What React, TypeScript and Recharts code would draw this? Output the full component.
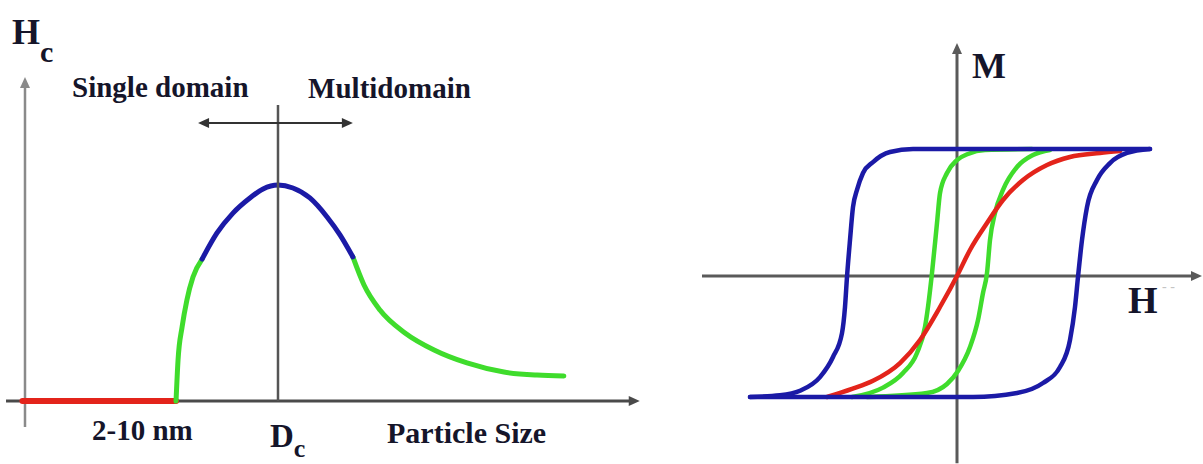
import type { JSX } from "react";
import {
  LineChart,
  Line,
  XAxis,
  YAxis,
  ReferenceLine,
  ReferenceDot,
} from "recharts";

/* ---------- COLORS ---------- */
const COLORS = {
  red: "#e3241b",
  green: "#3fdc2c",
  blue: "#1b1aa6",
  text: "#15152a",
  axis: "#4a4a4a",
  axisLight: "#8a8a8a",
};

const FONT = "Liberation Serif, Times New Roman, DejaVu Serif, serif";

/* ---------- COERCIVITY vs PARTICLE SIZE ---------- */
// size in units of Dc, Hc relative to its peak
const superparaSeg: [number, number][] = [
  [-0.01, 0],
  [0.597, 0],
];

const singleRiseSeg: [number, number][] = [
  [0.597, 0],
  [0.605, 0.19],
  [0.621, 0.343],
  [0.64, 0.468],
  [0.664, 0.574],
  [0.7, 0.657],
];

const peakSeg: [number, number][] = [
  [0.7, 0.657],
  [0.759, 0.778],
  [0.822, 0.87],
  [0.889, 0.94],
  [0.941, 0.982],
  [1.0, 1.0],
  [1.059, 0.986],
  [1.126, 0.94],
  [1.194, 0.852],
  [1.245, 0.769],
  [1.296, 0.667],
];

const multiTailSeg: [number, number][] = [
  [1.296, 0.667],
  [1.34, 0.537],
  [1.403, 0.421],
  [1.502, 0.315],
  [1.617, 0.236],
  [1.747, 0.176],
  [1.893, 0.134],
  [2.024, 0.12],
  [2.13, 0.116],
];

/* ---------- HYSTERESIS LOOPS (H, M) ---------- */
// wide loop, descending branch
const hardDown: [number, number][] = [
  [-2.07, -0.976],
  [-1.77, -0.962],
  [-1.57, -0.925],
  [-1.37, -0.815],
  [-1.24, -0.653],
  [-1.15, -0.46],
  [-1.12, -0.25],
  [-1.1, -0.008],
  [-1.07, 0.29],
  [-1.04, 0.556],
  [-1.0, 0.694],
  [-0.94, 0.831],
  [-0.84, 0.919],
  [-0.67, 1.0],
  [-0.44, 1.024],
  [1.93, 1.024],
];

// wide loop, ascending branch
const hardUp: [number, number][] = [
  [-2.07, -0.976],
  [0.16, -0.976],
  [0.6, -0.944],
  [0.86, -0.863],
  [1.03, -0.734],
  [1.13, -0.516],
  [1.18, -0.25],
  [1.21, -0.008],
  [1.25, 0.29],
  [1.3, 0.556],
  [1.4, 0.774],
  [1.53, 0.911],
  [1.7, 0.992],
  [1.93, 1.024],
];

// narrow loop
const softDown: [number, number][] = [
  [-1.05, -0.976],
  [-0.74, -0.9],
  [-0.54, -0.782],
  [-0.4, -0.621],
  [-0.32, -0.411],
  [-0.29, -0.25],
  [-0.25, 0.024],
  [-0.2, 0.427],
  [-0.17, 0.669],
  [-0.1, 0.831],
  [0.0, 0.935],
  [0.11, 0.984],
  [0.28, 1.016],
  [0.75, 1.024],
];

const softUp: [number, number][] = [
  [-0.9, -0.976],
  [-0.3, -0.944],
  [-0.1, -0.871],
  [0.01, -0.766],
  [0.13, -0.573],
  [0.21, -0.355],
  [0.26, -0.137],
  [0.3, 0.024],
  [0.33, 0.29],
  [0.38, 0.508],
  [0.46, 0.694],
  [0.6, 0.879],
  [0.76, 0.976],
  [0.93, 1.016],
];

// no remanence
const anhysteretic: [number, number][] = [
  [-1.3, -0.976],
  [-1.05, -0.91],
  [-0.84, -0.845],
  [-0.57, -0.702],
  [-0.37, -0.516],
  [-0.17, -0.25],
  [0, 0],
  [0.13, 0.21],
  [0.3, 0.427],
  [0.46, 0.613],
  [0.66, 0.774],
  [0.9, 0.895],
  [1.13, 0.96],
  [1.43, 0.992],
  [1.63, 1.008],
];

/* ---------- LABELS ---------- */
const SIZE_LABELS = {
  hc: ["H", "c"],
  single: "Single domain",
  multi: "Multidomain",
  range: "2-10 nm",
  dc: ["D", "c"],
  size: "Particle Size",
};

const LOOP_LABELS = { m: "M", h: "H", trail: "- -" };

/* ---------- DOMAINS ---------- */
const SIZE_X: [number, number] = [-0.0988, 2.4704];
const SIZE_Y: [number, number] = [-0.2917, 1.8565];
const LOOP_X: [number, number] = [-2.77, 2.46];
const LOOP_Y: [number, number] = [-1.5161, 2.2258];

const toPoints = (pairs: [number, number][]) =>
  pairs.map(([x, y]) => ({ x, y }));

/* ---------- SHAPES ---------- */
function Arrow({
  x1,
  y1,
  x2,
  y2,
  color,
  width,
  both,
}: any): JSX.Element | null {
  if ([x1, y1, x2, y2].some((v) => v == null || Number.isNaN(v))) return null;
  const ang = Math.atan2(y2 - y1, x2 - x1);
  const len = 11;
  const half = 5;
  const head = (x: number, y: number, a: number) => {
    const bx = x - Math.cos(a) * len;
    const by = y - Math.sin(a) * len;
    const px = Math.sin(a) * half;
    const py = -Math.cos(a) * half;
    return `${x},${y} ${bx + px},${by + py} ${bx - px},${by - py}`;
  };
  return (
    <g>
      <line
        x1={both ? x1 + Math.cos(ang) * 6 : x1}
        y1={both ? y1 + Math.sin(ang) * 6 : y1}
        x2={x2 - Math.cos(ang) * 6}
        y2={y2 - Math.sin(ang) * 6}
        stroke={color}
        strokeWidth={width}
      />
      <polygon points={head(x2, y2, ang)} fill={color} />
      {both && <polygon points={head(x1, y1, ang + Math.PI)} fill={color} />}
    </g>
  );
}

function textShape(
  main: string,
  size: number,
  sub?: string,
  subSize?: number,
  subDy?: number,
  fill: string = COLORS.text,
  weight: string = "bold"
) {
  return (p: any) => (
    <text
      x={p.cx}
      y={p.cy}
      fill={fill}
      fontFamily={FONT}
      fontWeight={weight}
      fontSize={size}
    >
      {main}
      {sub && (
        <tspan dy={subDy} fontSize={subSize} fontFamily={FONT}>
          {sub}
        </tspan>
      )}
    </text>
  );
}

function seg(a: [number, number], b: [number, number]) {
  return [
    { x: a[0], y: a[1] },
    { x: b[0], y: b[1] },
  ];
}

function curve(
  pairs: [number, number][],
  color: string,
  width: number,
  key?: number
) {
  return (
    <Line
      key={key}
      data={toPoints(pairs)}
      dataKey="y"
      type="monotone"
      stroke={color}
      strokeWidth={width}
      strokeLinecap="round"
      dot={false}
      activeDot={false}
      isAnimationActive={false}
    />
  );
}

/* ---------- LEFT: Hc vs particle size ---------- */
function CoercivityChart() {
  return (
    <LineChart
      width={650}
      height={464}
      margin={{ top: 0, right: 0, bottom: 0, left: 0 }}
      style={{ fontFamily: FONT }}
    >
      <XAxis
        type="number"
        dataKey="x"
        domain={SIZE_X}
        allowDataOverflow
        hide
      />
      <YAxis
        type="number"
        dataKey="y"
        domain={SIZE_Y}
        allowDataOverflow
        hide
      />

      {/* axes */}
      <ReferenceLine
        segment={seg([0, -0.12], [0, 1.5])}
        shape={(p: any) => (
          <Arrow {...p} color={COLORS.axisLight} width={2.5} />
        )}
      />
      <ReferenceLine
        segment={seg([-0.075, 0], [2.43, 0])}
        shape={(p: any) => <Arrow {...p} color={COLORS.axis} width={3} />}
      />

      {/* regions */}
      {curve(superparaSeg, COLORS.red, 6)}
      {curve(singleRiseSeg, COLORS.green, 5)}
      {curve(multiTailSeg, COLORS.green, 5)}
      {curve(peakSeg, COLORS.blue, 5)}

      {/* critical size */}
      <ReferenceLine
        segment={seg([1, 0], [1, 1.37])}
        stroke="#555"
        strokeWidth={2.5}
      />
      <ReferenceLine
        segment={seg([0.684, 1.287], [1.296, 1.287])}
        shape={(p: any) => <Arrow {...p} color="#333" width={2} both />}
      />

      {/* captions */}
      <ReferenceDot
        x={-0.051}
        y={1.653}
        shape={textShape(SIZE_LABELS.hc[0], 36, SIZE_LABELS.hc[1], 30, 18)}
      />
      <ReferenceDot
        x={0.186}
        y={1.407}
        shape={textShape(SIZE_LABELS.single, 29)}
      />
      <ReferenceDot
        x={1.119}
        y={1.403}
        shape={textShape(SIZE_LABELS.multi, 29)}
      />
      <ReferenceDot
        x={0.265}
        y={-0.181}
        shape={textShape(SIZE_LABELS.range, 29)}
      />
      <ReferenceDot
        x={0.968}
        y={-0.213}
        shape={textShape(SIZE_LABELS.dc[0], 33, SIZE_LABELS.dc[1], 26, 10)}
      />
      <ReferenceDot
        x={1.431}
        y={-0.194}
        shape={textShape(SIZE_LABELS.size, 30)}
      />
    </LineChart>
  );
}

/* ---------- RIGHT: M-H loops ---------- */
function HysteresisChart() {
  const loops: { data: [number, number][]; color: string }[] = [
    { data: softDown, color: COLORS.green },
    { data: softUp, color: COLORS.green },
    { data: anhysteretic, color: COLORS.red },
    { data: hardDown, color: COLORS.blue },
    { data: hardUp, color: COLORS.blue },
  ];

  return (
    <LineChart
      width={523}
      height={464}
      margin={{ top: 0, right: 0, bottom: 0, left: 0 }}
      style={{ fontFamily: FONT }}
    >
      <XAxis
        type="number"
        dataKey="x"
        domain={LOOP_X}
        allowDataOverflow
        hide
      />
      <YAxis
        type="number"
        dataKey="y"
        domain={LOOP_Y}
        allowDataOverflow
        hide
      />

      <ReferenceLine
        segment={seg([-2.55, 0], [2.45, 0])}
        shape={(p: any) => <Arrow {...p} color="#5a5a5a" width={3} />}
      />
      <ReferenceLine
        segment={seg([0, -1.51], [0, 1.88])}
        shape={(p: any) => <Arrow {...p} color="#5a5a5a" width={3} />}
      />

      {loops.map((l, i) => curve(l.data, l.color, 4.5, i))}

      <ReferenceDot x={0.15} y={1.6} shape={textShape(LOOP_LABELS.m, 36)} />
      <ReferenceDot x={1.71} y={-0.298} shape={textShape(LOOP_LABELS.h, 38)} />
      <ReferenceDot
        x={2.05}
        y={-0.12}
        shape={textShape(
          LOOP_LABELS.trail,
          14,
          undefined,
          undefined,
          undefined,
          "#c4c4c4",
          "normal"
        )}
      />
    </LineChart>
  );
}

/* ---------- PAGE ---------- */
export default function App() {
  return (
    <div
      style={{
        position: "absolute",
        left: 0,
        top: 0,
        width: 1203,
        height: 464,
        background: "#fff",
        overflow: "hidden",
        fontFamily: FONT,
      }}
    >
      <div style={{ position: "absolute", left: 0, top: 0 }}>
        <CoercivityChart />
      </div>
      <div style={{ position: "absolute", left: 680, top: 0 }}>
        <HysteresisChart />
      </div>
    </div>
  );
}
